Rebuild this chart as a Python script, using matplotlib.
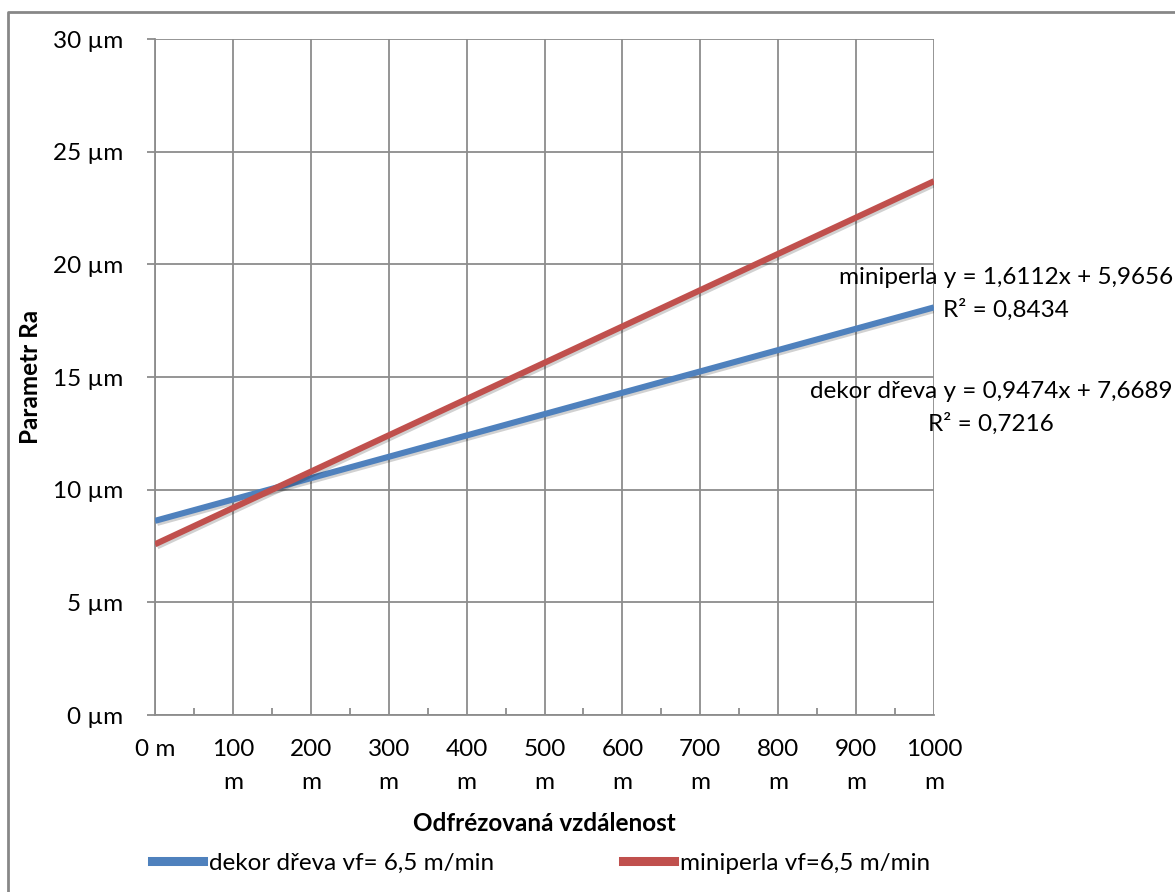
import matplotlib
matplotlib.use("Agg")
import matplotlib.pyplot as plt
import matplotlib.patheffects as pe
from matplotlib.lines import Line2D
from matplotlib.ticker import MultipleLocator, FuncFormatter
import numpy as np

plt.rcParams['font.family'] = ['Lato', 'DejaVu Sans']

# distance milled, one point every 100 m
distance = [0, 100, 200, 300, 400, 500, 600, 700, 800, 900, 1000]
x_labels = ['0 m', '100\nm', '200\nm', '300\nm', '400\nm', '500\nm',
            '600\nm', '700\nm', '800\nm', '900\nm', '1000\nm']

# linear trend fits (x = point index 1..11)
dekor_slope, dekor_icept, dekor_r2 = 0.9474, 7.6689, 0.7216
mini_slope, mini_icept, mini_r2 = 1.6112, 5.9656, 0.8434

blue = '#4F81BD'
red = '#C0504D'
grid_c = '#8C8C8C'
fs = 17.5

idx = np.arange(1, len(distance) + 1)
dekor_fit = dekor_slope * idx + dekor_icept
mini_fit = mini_slope * idx + mini_icept

fig = plt.figure(figsize=(11.75, 8.92), dpi=100)
ax = fig.add_axes([155 / 1175, 177 / 892, 779 / 1175, 676 / 892])

shadow = [pe.SimpleLineShadow(offset=(1.5, -1.5), shadow_color='k', alpha=0.18),
          pe.Normal()]
ax.plot(distance, dekor_fit, color=blue, lw=4.4, solid_capstyle='butt',
        path_effects=shadow, zorder=3)
ax.plot(distance, mini_fit, color=red, lw=4.4, solid_capstyle='butt',
        path_effects=shadow, zorder=4)

ax.set_xlim(0, 1000)
ax.set_ylim(0, 30)
ax.set_xticks(distance)
ax.set_xticklabels(x_labels, linespacing=1.7, va='top')
ax.xaxis.set_minor_locator(MultipleLocator(50))
ax.yaxis.set_major_locator(MultipleLocator(5))
ax.yaxis.set_major_formatter(FuncFormatter(lambda v, p: f'{v:.0f} µm'))

ax.grid(True, which='major', color=grid_c, lw=1.3)
for s in ['top', 'right']:
    ax.spines[s].set_visible(False)
for s in ['left', 'bottom']:
    ax.spines[s].set_color(grid_c)
    ax.spines[s].set_linewidth(1.3)

ax.tick_params(axis='x', which='major', length=0, pad=17, labelsize=fs)
ax.tick_params(axis='x', which='minor', direction='in', length=5,
               color=grid_c, width=1.3)
ax.tick_params(axis='y', which='major', length=6, color=grid_c, width=1.3,
               pad=17, labelsize=fs)

ax.set_xlabel('Odfrézovaná vzdálenost', fontsize=fs, fontweight='bold',
              labelpad=14)
ax.set_ylabel('Parametr Ra', fontsize=fs, fontweight='bold', labelpad=7.5)

# trendline equations
fig.text(1006 / 1175, 1 - 294 / 892,
         f'miniperla y = {mini_slope:.4f}x + {mini_icept:.4f}\nR² = {mini_r2:.4f}'.replace('.', ','),
         ha='center', va='center', fontsize=fs, linespacing=1.55)
fig.text(991 / 1175, 1 - 408 / 892,
         f'dekor dřeva y = {dekor_slope:.4f}x + {dekor_icept:.4f}\nR² = {dekor_r2:.4f}'.replace('.', ','),
         ha='center', va='center', fontsize=fs, linespacing=1.55)

handles = [Line2D([], [], color=blue, lw=6.5),
           Line2D([], [], color=red, lw=6.5)]
fig.legend(handles, ['dekor dřeva vf= 6,5 m/min', 'miniperla vf=6,5 m/min'],
           loc='center left', bbox_to_anchor=(130 / 1175, 1 - 863 / 892),
           ncol=2, frameon=False, fontsize=fs, handlelength=2.1,
           handletextpad=0.25, columnspacing=5.3)

# outer chart border (top and left edges visible)
fig.add_artist(Line2D([8 / 1175, 8 / 1175, 1], [0, 1 - 12 / 892, 1 - 12 / 892],
                      transform=fig.transFigure, color='#878787', lw=2))

fig.savefig('out.png', dpi=100, facecolor='white')
